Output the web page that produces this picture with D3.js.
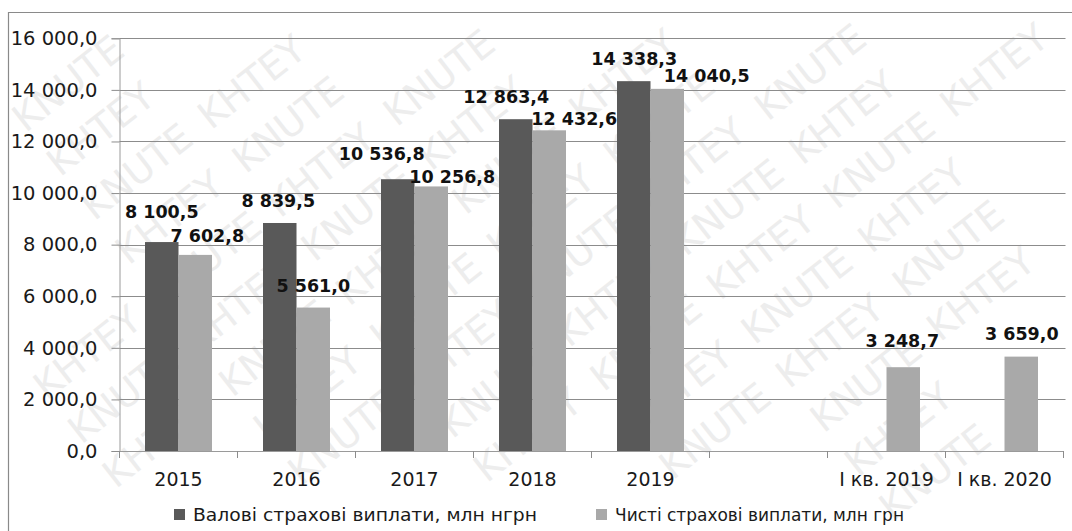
<!DOCTYPE html>
<html>
<head>
<meta charset="utf-8">
<script src="https://cdn.jsdelivr.net/npm/d3@7"></script>
<style>
  html, body { margin: 0; padding: 0; background: #fff; }
  svg { display: block; }
</style>
</head>
<body>
<svg id="chart" width="1072" height="531"></svg>
<script>
// ---- data ----
const categories = ["2015", "2016", "2017", "2018", "2019", "", "І кв. 2019", "І кв. 2020"];
const grossPayments = [8100.5, 8839.5, 10536.8, 12863.4, 14338.3, null, null, null];
const netPayments = [7602.8, 5561.0, 10256.8, 12432.6, 14040.5, null, 3248.7, 3659.0];
const seriesNames = ["Валові страхові виплати, млн нгрн", "Чисті страхові виплати, млн грн"];
const yTicks = [0, 2000, 4000, 6000, 8000, 10000, 12000, 14000, 16000];
const watermarkWords = ["KHTEY", "KNUTE"];

// ---- layout ----
const W = 1072, H = 531;
const plot = { left: 119.5, right: 1063.5, top: 38.3, bottom: 451 };
const colors = ["#595959", "#a9a9a9"];
const barW = 33.5;
// manual label nudges (dx, dy from bar top), mirroring the hand-placed labels
const grossNudge = [[0, -24], [-1.5, -16], [-16, -19], [-9.5, -16], [0.5, -16], null, null, null];
const netNudge = [[12, -13], [0, -16], [21, -3.5], [25, -5], [39.5, -7], null, [-1, -20], [0.5, -16.6]];
const FONT = "DejaVu Sans, Verdana, sans-serif";

const svg = d3.select("#chart");
const locale = d3.formatLocale({ decimal: ",", thousands: "\u00a0", grouping: [3] });
const fmt = locale.format(",.1f");

// watermark: individual words along diagonal rows; only fully visible ones are kept
const wm = svg.append("g").attr("fill", "#ededed")
  .style("font-family", FONT).style("font-size", "38px");
const ang = -38 * Math.PI / 180;
const ux = Math.cos(ang), uy = Math.sin(ang);      // along row
const vx = -uy, vy = ux;                            // across rows
const wordStep = 148, rowStep = 56;
d3.range(-14, 16).forEach(r => {
  d3.range(-10, 12).forEach(k => {
    const ox = 500 + r * rowStep * vx + k * wordStep * ux;
    const oy = 260 + r * rowStep * vy + k * wordStep * uy;
    const t = wm.append("text")
      .attr("transform", `translate(${ox},${oy}) rotate(-38)`)
      .text(watermarkWords[((k + r) % 2 + 2) % 2]);
    const b = t.node().getBoundingClientRect();
    if (b.left < 1 || b.top < 1 || b.right > W - 1 || b.bottom > H - 1) t.remove();
  });
});

// outer frame
svg.append("path").attr("d", `M8.5,${H} V12.5 H${W}`)
  .attr("fill", "none").attr("stroke", "#8a8a8a").attr("stroke-width", 1.2);

const x0 = d3.scaleBand().domain(d3.range(categories.length)).range([plot.left, plot.right]).padding(0);
const x1 = d3.scaleBand().domain([0, 1]).range([-barW, barW]).padding(0);
const y = d3.scaleLinear().domain([0, 16000]).range([plot.bottom, plot.top]);

// gridlines + y axis
const yAxis = d3.axisLeft(y).tickValues(yTicks).tickSize(8).tickFormat(fmt).tickPadding(14);
const gy = svg.append("g").attr("transform", `translate(${plot.left},0)`).call(yAxis);
gy.select(".domain").attr("stroke", "#9a9a9a");
gy.selectAll(".tick line").attr("stroke", "#8c8c8c");
gy.selectAll(".tick text").attr("fill", "#1a1a1a")
  .style("font-family", FONT).style("font-size", "19.5px");

svg.append("g").selectAll("line").data(yTicks.filter(d => d > 0)).join("line")
  .attr("x1", plot.left).attr("x2", plot.right + 2)
  .attr("y1", d => Math.round(y(d)) + 0.5).attr("y2", d => Math.round(y(d)) + 0.5)
  .attr("stroke", "#8c8c8c").attr("stroke-width", 1.2);

// bars
const series = [grossPayments, netPayments];
series.forEach((vals, si) => {
  svg.append("g").selectAll("rect")
    .data(vals.map((v, i) => ({ v, i })).filter(d => d.v != null))
    .join("rect")
    .attr("x", d => x0(d.i) + x0.bandwidth() / 2 + x1(si))
    .attr("width", x1.bandwidth())
    .attr("y", d => y(d.v))
    .attr("height", d => y(0) - y(d.v))
    .attr("fill", colors[si]);
});

// x axis
const xAxis = d3.axisBottom(x0).tickSize(0).tickFormat(i => categories[i]).tickPadding(22);
const gx = svg.append("g").attr("transform", `translate(0,${plot.bottom})`).call(xAxis);
gx.select(".domain").attr("stroke", "#9a9a9a").attr("stroke-width", 1.2);
gx.selectAll(".tick text").attr("fill", "#1a1a1a")
  .style("font-family", FONT).style("font-size", "19px");
// category boundary ticks
svg.append("g").selectAll("line").data(d3.range(categories.length + 1)).join("line")
  .attr("x1", i => plot.left + i * x0.step()).attr("x2", i => plot.left + i * x0.step())
  .attr("y1", plot.bottom).attr("y2", plot.bottom + 7)
  .attr("stroke", "#8c8c8c");

// data labels
const nudges = [grossNudge, netNudge];
series.forEach((vals, si) => {
  svg.append("g").selectAll("text")
    .data(vals.map((v, i) => ({ v, i })).filter(d => d.v != null))
    .join("text")
    .attr("x", d => x0(d.i) + x0.bandwidth() / 2 + x1(si) + x1.bandwidth() / 2 + nudges[si][d.i][0])
    .attr("y", d => y(d.v) + nudges[si][d.i][1])
    .attr("text-anchor", "middle")
    .attr("fill", "#111")
    .style("font-family", FONT).style("font-weight", "bold").style("font-size", "17.5px")
    .text(d => fmt(d.v));
});

// legend
const legendX = [174, 596];
const legendLen = [344, 289];
const lg = svg.append("g");
seriesNames.forEach((name, si) => {
  lg.append("rect").attr("x", legendX[si]).attr("y", 509).attr("width", 11).attr("height", 11).attr("fill", colors[si]);
  lg.append("text").attr("x", legendX[si] + 19).attr("y", 521)
    .attr("fill", "#1a1a1a")
    .attr("textLength", legendLen[si]).attr("lengthAdjust", "spacingAndGlyphs")
    .style("font-family", FONT).style("font-size", "17px")
    .text(name);
});
</script>
</body>
</html>
